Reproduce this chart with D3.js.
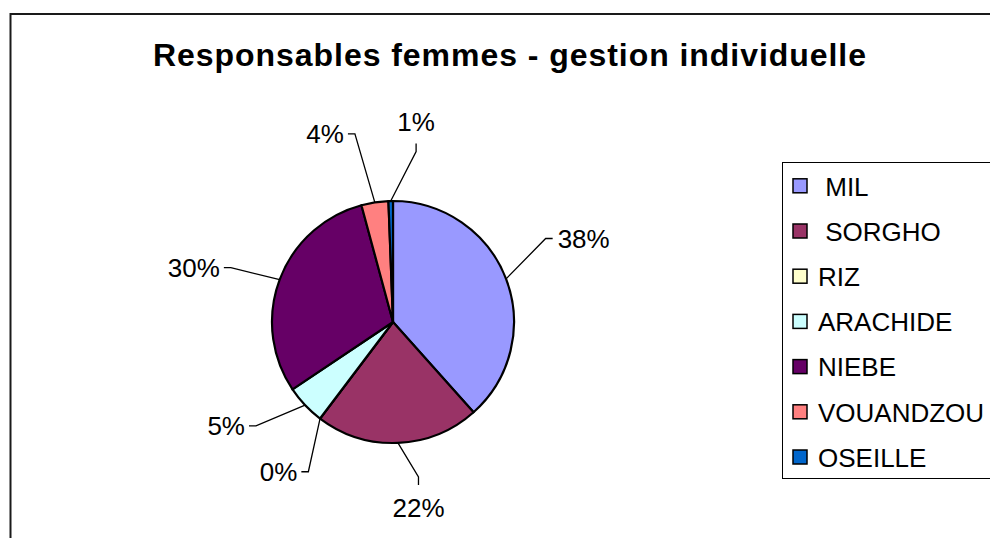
<!DOCTYPE html>
<html>
<head>
<meta charset="utf-8">
<script src="https://cdn.jsdelivr.net/npm/d3@7"></script>
<style>
  body { margin: 0; background: #fff; }
  svg text { font-family: "Liberation Sans", Arial, sans-serif; white-space: pre; }
</style>
</head>
<body>
<div id="chartArea"></div>
<script>
// data (share in %, pie starts at 12 o'clock, clockwise)
const title = "Responsables femmes - gestion individuelle";
const categories = [" MIL", " SORGHO", "RIZ", "ARACHIDE", "NIEBE", "VOUANDZOU", "OSEILLE"];
const shares = [38.4, 21.9, 0, 5.3, 30.2, 3.6, 0.6];
const colors = ["#9999FF", "#993366", "#FFFFCC", "#CCFFFF", "#660066", "#FF8080", "#0066CC"];

// label layout tweaks (degrees off the slice middle, distance from centre)
const labelShift = [-7.8, -7, -7.6, 6.2, -2, -2.8, 8.8];
const labelDist = [174, 157, 172, 172, 171, 192, 172];

const W = 990, H = 538;
const cx = 393, cy = 322, r = 121;
const fs = 26;

const svg = d3.select("#chartArea").append("svg")
  .attr("width", W)
  .attr("height", H);

// outer chart border (runs off the right/bottom edges)
svg.append("rect")
  .attr("x", 10.5).attr("y", 14)
  .attr("width", 1100).attr("height", 700)
  .attr("fill", "#fff")
  .attr("stroke", "#1a1a1a")
  .attr("stroke-width", 2);

svg.append("text")
  .attr("x", 153).attr("y", 66)
  .attr("textLength", 713)
  .attr("lengthAdjust", "spacing")
  .attr("font-size", 32)
  .attr("font-weight", "bold")
  .attr("fill", "#000")
  .text(title);

const rows = categories.map((c, i) => ({ name: c, value: shares[i], color: colors[i], i: i }));

const pie = d3.pie().sort(null).value(d => d.value);
const arcs = pie(rows);
const arc = d3.arc().innerRadius(0).outerRadius(r);

const g = svg.append("g").attr("transform", `translate(${cx},${cy})`);

g.selectAll("path.slice")
  .data(arcs)
  .enter()
  .append("path")
  .attr("class", "slice")
  .attr("d", arc)
  .attr("fill", d => d.data.color)
  .attr("stroke", "#000")
  .attr("stroke-width", 2.2)
  .attr("stroke-linejoin", "round");

// leader lines + percentage labels
const pt = (a, rad) => [rad * Math.sin(a), -rad * Math.cos(a)];

arcs.forEach(d => {
  const i = d.data.i;
  const mid = (d.startAngle + d.endAngle) / 2;
  const p0 = pt(mid, r);
  const la = mid + labelShift[i] * Math.PI / 180;
  const p1 = pt(la, labelDist[i]);
  const deg = ((la * 180 / Math.PI) % 360 + 360) % 360;
  const vertical = Math.min(Math.abs(deg), Math.abs(360 - deg), Math.abs(180 - deg)) < 10;
  let p2, tx, ty, anchor;
  if (vertical) {
    const down = p1[1] > 0;
    p2 = [p1[0], p1[1] + (down ? 8 : -8)];
    tx = p2[0];
    ty = down ? p2[1] + 13 + 0.72 * fs : p2[1] - 13;
    anchor = "middle";
  } else {
    const right = p1[0] > 0;
    p2 = [p1[0] + (right ? 7 : -7), p1[1]];
    tx = p2[0] + (right ? 5 : -4);
    ty = p2[1] + 0.36 * fs;
    anchor = right ? "start" : "end";
  }
  g.append("path")
    .attr("d", d3.line()([p0, p1, p2]))
    .attr("fill", "none")
    .attr("stroke", "#000")
    .attr("stroke-width", 1.3);
  g.append("text")
    .attr("x", tx).attr("y", ty)
    .attr("text-anchor", anchor)
    .attr("font-size", fs)
    .attr("fill", "#000")
    .text(Math.round(d.data.value) + "%");
});

// legend
const legY = d3.scalePoint().domain(categories).range([186.3, 457.5]);

svg.append("rect")
  .attr("x", 782.5).attr("y", 162.5)
  .attr("width", 400).attr("height", 316)
  .attr("fill", "#fff")
  .attr("stroke", "#000")
  .attr("stroke-width", 1);

const leg = svg.selectAll("g.leg")
  .data(rows)
  .enter()
  .append("g")
  .attr("class", "leg")
  .attr("transform", d => `translate(0,${legY(d.name)})`);

leg.append("rect")
  .attr("x", 793).attr("y", -7.5)
  .attr("width", 14).attr("height", 14)
  .attr("fill", d => d.color)
  .attr("stroke", "#000")
  .attr("stroke-width", 1.5);

leg.append("text")
  .attr("x", 818).attr("y", 0.36 * fs)
  .attr("font-size", fs)
  .attr("fill", "#000")
  .text(d => d.name);
</script>
</body>
</html>
